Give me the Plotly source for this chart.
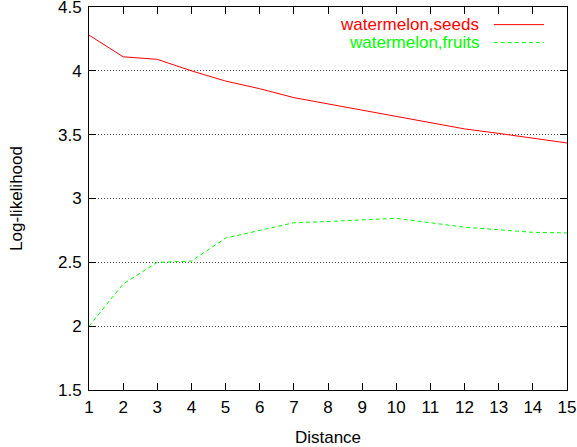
import plotly.graph_objects as go

distance = list(range(1, 16))
seeds = [4.28, 4.11, 4.09, 4.00, 3.92, 3.86, 3.79, 3.74, 3.69, 3.64, 3.59, 3.545, 3.51, 3.47, 3.435]
fruits = [2.00, 2.33, 2.50, 2.51, 2.69, 2.75, 2.81, 2.82, 2.835, 2.845, 2.81, 2.775, 2.755, 2.735, 2.73]
y_ticks = [1.5, 2, 2.5, 3, 3.5, 4, 4.5]
names = ["watermelon,seeds", "watermelon,fruits"]
colors = ["#ff0000", "#00ff00"]

FONT = "Liberation Sans, Arial, sans-serif"
FS = 17

fig = go.Figure()
fig.add_trace(go.Scatter(x=distance, y=seeds, mode="lines", name=names[0],
                         line=dict(color=colors[0], width=1), showlegend=False))
fig.add_trace(go.Scatter(x=distance, y=fruits, mode="lines", name=names[1],
                         line=dict(color=colors[1], width=1, dash="4px,3px"), showlegend=False))

# legend (gnuplot style: text right-aligned, sample to the right)
legend_y = [0.954, 0.907]
dashes = ["solid", "4px,3px"]
for i in range(2):
    fig.add_annotation(x=0.824, y=legend_y[i], xref="paper", yref="paper",
                       text=names[i], showarrow=False, xanchor="right", yanchor="middle",
                       xshift=-2, font=dict(color=colors[i], size=FS, family=FONT))
    fig.add_shape(type="line", xref="paper", yref="paper",
                  x0=0.847, x1=0.952, y0=legend_y[i], y1=legend_y[i],
                  line=dict(color=colors[i], width=1, dash=dashes[i]))

axis_common = dict(showline=True, linecolor="black", linewidth=1, mirror="allticks",
                   ticks="inside", ticklen=7, tickcolor="black", tickwidth=1,
                   tickfont=dict(size=FS, family=FONT, color="black"), zeroline=False,
                   automargin=False, ticklabeloverflow="allow")

fig.update_xaxes(range=[1, 15], tickvals=distance, showgrid=False, ticklabelstandoff=2,
                 title=dict(text="Distance", font=dict(size=FS, family=FONT, color="black"), standoff=15),
                 **axis_common)
fig.update_yaxes(range=[1.5, 4.5], tickvals=y_ticks, ticktext=[f"{v:g}" for v in y_ticks],
                 showgrid=True, gridcolor="#555555", gridwidth=1, griddash="1px,2px",
                 ticklabelstandoff=3,
                 title=dict(text="Log-likelihood", font=dict(size=FS, family=FONT, color="black"), standoff=31),
                 **axis_common)

fig.update_layout(width=577, height=447, margin=dict(l=89, r=10, t=7, b=57),
                  plot_bgcolor="white", paper_bgcolor="white",
                  font=dict(family=FONT, size=FS, color="black"))

fig.write_html("out.html", config={"displayModeBar": False},
               post_script="document.body.style.margin='0';")
